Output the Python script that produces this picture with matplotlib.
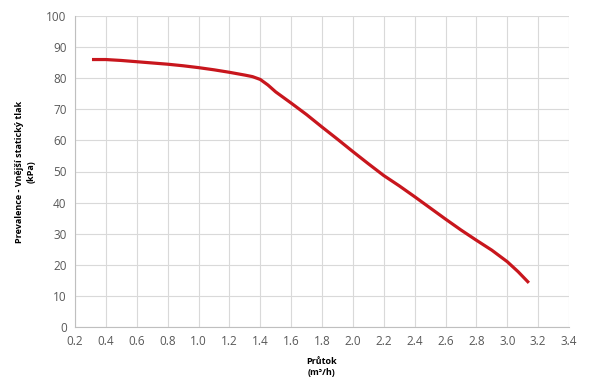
import matplotlib
matplotlib.use("Agg")
import matplotlib.pyplot as plt

# Flow (m3/h) vs external static pressure (kPa)
flow = [0.31, 0.4, 0.5, 0.6, 0.7, 0.8, 0.9, 1.0, 1.1, 1.2, 1.3, 1.35, 1.4, 1.45,
        1.5, 1.6, 1.7, 1.8, 1.9, 2.0, 2.1, 2.2, 2.3, 2.4, 2.5, 2.6, 2.7, 2.8,
        2.9, 3.0, 3.07, 3.14]
pressure = [86.0, 86.0, 85.7, 85.3, 84.9, 84.5, 84.0, 83.4, 82.7, 81.9, 81.0, 80.5, 79.6, 77.8,
            75.6, 72.0, 68.3, 64.3, 60.4, 56.4, 52.5, 48.7, 45.4, 41.9, 38.3, 34.7, 31.2, 27.9,
            24.7, 21.0, 17.8, 14.2]

x_ticks = [0.2, 0.4, 0.6, 0.8, 1.0, 1.2, 1.4, 1.6, 1.8, 2.0, 2.2, 2.4, 2.6, 2.8, 3.0, 3.2, 3.4]
y_ticks = [0, 10, 20, 30, 40, 50, 60, 70, 80, 90, 100]

plt.rcParams["font.family"] = ["Open Sans", "DejaVu Sans"]

fig = plt.figure(figsize=(6, 3.8), dpi=100)
ax = fig.add_axes([75 / 600, 1 - 327 / 380, (569 - 75) / 600, (327 - 16) / 380])

ax.plot(flow, pressure, color="#c8161d", linewidth=2.3, solid_capstyle="butt",
        solid_joinstyle="round")

ax.set_xlim(0.2, 3.4)
ax.set_ylim(0, 100)
ax.set_xticks(x_ticks)
ax.set_xticklabels([f"{t:.1f}" for t in x_ticks])
ax.set_yticks(y_ticks)

ax.grid(True, color="#d9d9d9", linewidth=0.8)
ax.set_axisbelow(True)
for s in ["top", "right"]:
    ax.spines[s].set_visible(False)
for s in ["left", "bottom"]:
    ax.spines[s].set_color("#bfbfbf")
    ax.spines[s].set_linewidth(0.8)
ax.tick_params(length=0, labelsize=8.5, labelcolor="#595959", pad=6)

ax.set_xlabel("Průtok\n(m³/h)", fontsize=6.5, fontweight="bold", linespacing=1.3, labelpad=6)
ax.set_ylabel("Prevalence - Vnější statický tlak\n(kPa)", fontsize=6.5, fontweight="bold",
              linespacing=1.3, labelpad=8)

fig.savefig("out.png", dpi=100, facecolor="white")
plt.close(fig)
